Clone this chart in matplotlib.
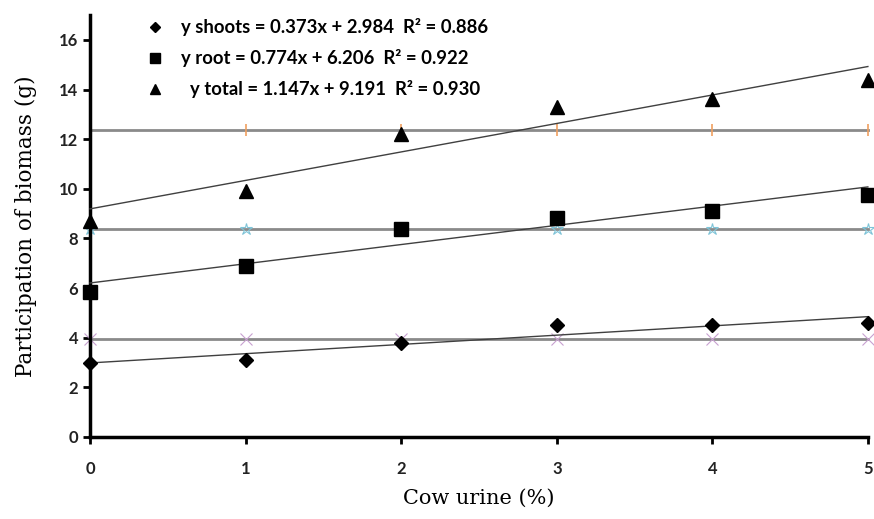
import matplotlib.pyplot as plt
import numpy as np

# cow urine doses and measured biomass
urine = [0, 1, 2, 3, 4, 5]
shoots = [3.0, 3.1, 3.8, 4.5, 4.5, 4.6]
root = [5.85, 6.87, 8.4, 8.83, 9.1, 9.76]
total = [8.7, 9.9, 12.2, 13.3, 13.6, 14.37]

# reference (control) levels drawn as flat lines
ref_shoots = [3.95] * 6
ref_root = [8.4] * 6
ref_total = [12.38] * 6

# regression coefficients (slope, intercept, r2)
fit_shoots = (0.373, 2.984, 0.886)
fit_root = (0.774, 6.206, 0.922)
fit_total = (1.147, 9.191, 0.930)

yticks = [0, 2, 4, 6, 8, 10, 12, 14, 16]

fig = plt.figure(figsize=(8.74, 5.19), dpi=100)
ax = fig.add_axes([0.103, 0.158, 0.890, 0.813])

xs = np.array([0, 5])

# flat reference lines
ax.plot(urine, ref_total, color="#8a8a8a", lw=2, marker="|", ms=9, mec="#f0a060", mew=1.2, zorder=2, clip_on=False)
ax.plot(urine, ref_root, color="#8a8a8a", lw=2, marker="*", ms=9, mfc="none", mec="#7fc4d8", mew=0.8, zorder=2, clip_on=False)
ax.plot(urine, ref_shoots, color="#8a8a8a", lw=2, marker="x", ms=9, mec="#c8a0d0", mew=0.8, zorder=2, clip_on=False)

# trend lines
for s, b, r2 in [fit_shoots, fit_root, fit_total]:
    ax.plot(xs, s * xs + b, color="#404040", lw=1, zorder=3, clip_on=False)

# measured points
h1, = ax.plot(urine, shoots, "D", color="black", ms=7, ls="none", zorder=4, clip_on=False)
h2, = ax.plot(urine, root, "s", color="black", ms=10, ls="none", zorder=4, clip_on=False)
h3, = ax.plot(urine, total, "^", color="black", ms=10, ls="none", zorder=4, clip_on=False)

labels = [
    "y shoots = %.3fx + %.3f  R² = %.3f" % fit_shoots,
    "y root = %.3fx + %.3f  R² = %.3f" % fit_root,
    "  y total = %.3fx + %.3f  R² = %.3f" % fit_total,
]
ax.legend([h1, h2, h3], labels, loc="upper left", bbox_to_anchor=(0.05, 1.032),
          frameon=False, handlelength=1.0, handletextpad=0.9, labelspacing=0.7,
          prop={"family": "Lato", "weight": "bold", "size": 13.3}, markerscale=0.75)

ax.set_xlim(0, 5)
ax.set_ylim(0, 17)
ax.set_yticks(yticks)
ax.set_xticks(urine)

for side in ["top", "right"]:
    ax.spines[side].set_visible(False)
for side in ["left", "bottom"]:
    ax.spines[side].set_linewidth(2.5)

ax.tick_params(axis="both", width=2, length=5, direction="out", labelsize=12)
ax.tick_params(axis="x", pad=12)
for lab in ax.get_xticklabels() + ax.get_yticklabels():
    lab.set_fontfamily("Lato")
    lab.set_fontweight("bold")
    lab.set_color("#222222")

ax.set_xlabel("Cow urine (%)", fontsize=15, family="DejaVu Serif", labelpad=9)
ax.set_ylabel("Participation of biomass (g)", fontsize=15.5, family="DejaVu Serif", labelpad=16)

fig.savefig("out.png", dpi=100)
